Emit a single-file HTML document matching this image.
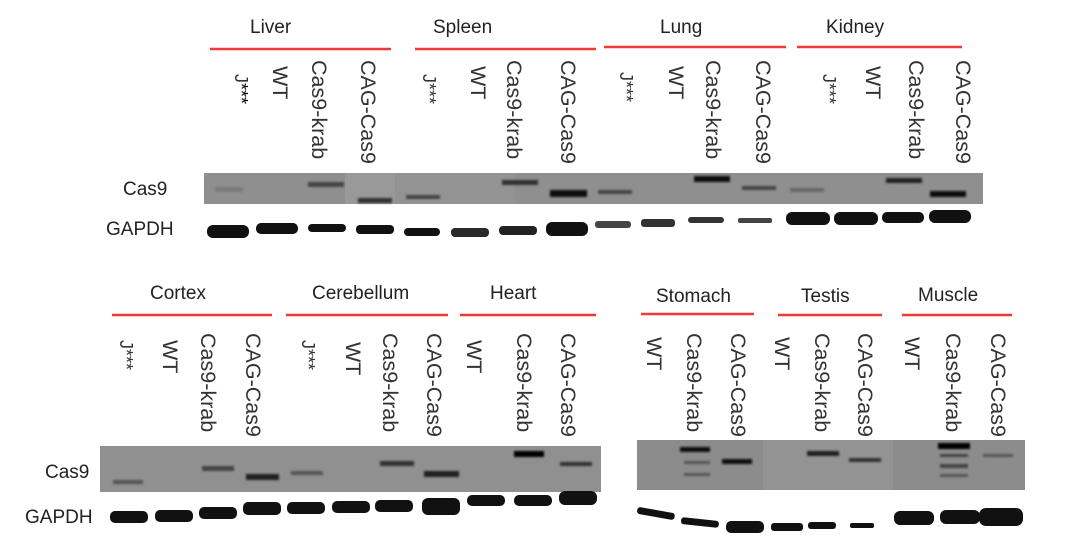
<!DOCTYPE html>
<html><head><meta charset="utf-8"><style>
html,body{margin:0;padding:0;background:#fff;}
svg{display:block;font-family:"Liberation Sans",sans-serif;}
.h{font-size:19px;fill:#222;}
.l{font-size:21.5px;fill:#333;}
.r{stroke:#f03a3a;stroke-width:2.5;}
.g rect{fill:#111;}
</style></head><body>
<svg width="1078" height="553" viewBox="0 0 1078 553" xmlns="http://www.w3.org/2000/svg">
<defs>
<filter id="b" x="-20%" y="-200%" width="140%" height="500%"><feGaussianBlur stdDeviation="1"/></filter>
</defs>
<text class="h" x="250" y="33">Liver</text>
<text class="h" x="433" y="33">Spleen</text>
<text class="h" x="660" y="33">Lung</text>
<text class="h" x="826" y="33">Kidney</text>
<line class="r" x1="210" y1="49" x2="391" y2="49"/>
<line class="r" x1="415" y1="49" x2="596" y2="49"/>
<line class="r" x1="604" y1="47" x2="786" y2="47"/>
<line class="r" x1="797" y1="47" x2="962" y2="47"/>

<g class="l">
<text transform="translate(235,74) rotate(90)" font-size="18">J<tspan font-size="18" fill="#000">***</tspan></text>
<text transform="translate(273,66) rotate(90)">WT</text>
<text transform="translate(312,60) rotate(90)">Cas9-krab</text>
<text transform="translate(361,60) rotate(90)">CAG-Cas9</text>
<text transform="translate(423,74) rotate(90)" font-size="18">J***</text>
<text transform="translate(471,66) rotate(90)">WT</text>
<text transform="translate(507,60) rotate(90)">Cas9-krab</text>
<text transform="translate(561,60) rotate(90)">CAG-Cas9</text>
<text transform="translate(620,72) rotate(90)" font-size="18">J***</text>
<text transform="translate(669,66) rotate(90)">WT</text>
<text transform="translate(706,60) rotate(90)">Cas9-krab</text>
<text transform="translate(756,60) rotate(90)">CAG-Cas9</text>
<text transform="translate(823,74) rotate(90)" font-size="18">J***</text>
<text transform="translate(866,66) rotate(90)">WT</text>
<text transform="translate(909,60) rotate(90)">Cas9-krab</text>
<text transform="translate(956,60) rotate(90)">CAG-Cas9</text>
</g>

<text class="h" x="123" y="195" font-size="20">Cas9</text>
<text class="h" x="106" y="235" font-size="20">GAPDH</text>

<rect x="204" y="173" width="779" height="31" fill="#8f8f8f"/>
<rect x="345" y="173" width="50" height="31" fill="#999"/>
<rect x="395" y="173" width="120" height="31" fill="#939393"/>
<g filter="url(#b)">
<rect x="215" y="187" width="28" height="5" fill="#7a7a7a"/>
<rect x="308" y="182" width="36" height="5" fill="#444"/>
<rect x="358" y="198" width="34" height="5" fill="#333"/>
<rect x="406" y="195" width="34" height="4" fill="#444"/>
<rect x="502" y="180" width="36" height="5" fill="#333"/>
<rect x="550" y="190" width="37" height="7" fill="#111"/>
<rect x="598" y="190" width="34" height="4" fill="#444"/>
<rect x="694" y="176" width="36" height="6" fill="#111"/>
<rect x="742" y="186" width="34" height="4" fill="#444"/>
<rect x="790" y="188" width="34" height="4" fill="#666"/>
<rect x="886" y="178" width="36" height="5" fill="#222"/>
<rect x="930" y="191" width="36" height="6" fill="#111"/>
</g>
<g class="g">
<rect x="207" y="225" width="42" height="13" rx="6"/>
<rect x="256" y="223" width="42" height="11" rx="5"/>
<rect x="308" y="224" width="38" height="8" rx="4"/>
<rect x="356" y="225" width="38" height="9" rx="4"/>
<rect x="404" y="228" width="36" height="8" rx="4"/>
<rect x="451" y="228" width="38" height="9" rx="4" style="fill:#2a2a2a"/>
<rect x="499" y="226" width="38" height="9" rx="4" style="fill:#222"/>
<rect x="546" y="222" width="42" height="14" rx="6"/>
<rect x="595" y="221" width="36" height="7" rx="3" style="fill:#444"/>
<rect x="641" y="219" width="34" height="8" rx="3" style="fill:#333"/>
<rect x="688" y="217" width="36" height="6" rx="3" style="fill:#333"/>
<rect x="738" y="218" width="34" height="5" rx="2" style="fill:#444"/>
<rect x="786" y="212" width="44" height="13" rx="6"/>
<rect x="834" y="212" width="44" height="13" rx="6"/>
<rect x="882" y="212" width="42" height="11" rx="5"/>
<rect x="929" y="210" width="42" height="13" rx="6"/>
</g>

<text class="h" x="150" y="299">Cortex</text>
<text class="h" x="312" y="299">Cerebellum</text>
<text class="h" x="490" y="299">Heart</text>
<line class="r" x1="112" y1="315" x2="272" y2="315"/>
<line class="r" x1="286" y1="315" x2="448" y2="315"/>
<line class="r" x1="460" y1="315" x2="596" y2="315"/>
<g class="l">
<text transform="translate(120,340) rotate(90)" font-size="18">J***</text>
<text transform="translate(163,340) rotate(90)">WT</text>
<text transform="translate(201,333) rotate(90)">Cas9-krab</text>
<text transform="translate(246,333) rotate(90)">CAG-Cas9</text>
<text transform="translate(302,340) rotate(90)" font-size="18">J***</text>
<text transform="translate(346,342) rotate(90)">WT</text>
<text transform="translate(383,333) rotate(90)">Cas9-krab</text>
<text transform="translate(427,333) rotate(90)">CAG-Cas9</text>
<text transform="translate(467,340) rotate(90)">WT</text>
<text transform="translate(517,333) rotate(90)">Cas9-krab</text>
<text transform="translate(561,333) rotate(90)">CAG-Cas9</text>
</g>
<text class="h" x="45" y="478" font-size="20">Cas9</text>
<text class="h" x="25" y="523" font-size="20">GAPDH</text>
<rect x="100" y="446" width="501" height="46" fill="#909090"/>
<g filter="url(#b)">
<rect x="113" y="480" width="30" height="4" fill="#555"/>
<rect x="202" y="466" width="32" height="5" fill="#444"/>
<rect x="246" y="474" width="33" height="6" fill="#222"/>
<rect x="291" y="471" width="32" height="4" fill="#555"/>
<rect x="380" y="461" width="34" height="5" fill="#333"/>
<rect x="424" y="471" width="35" height="6" fill="#222"/>
<rect x="514" y="451" width="30" height="6" fill="#000"/>
<rect x="560" y="462" width="32" height="4" fill="#333"/>
</g>
<g class="g">
<rect x="110" y="511" width="38" height="12" rx="5"/>
<rect x="155" y="510" width="38" height="12" rx="5"/>
<rect x="199" y="507" width="38" height="12" rx="5"/>
<rect x="243" y="502" width="38" height="13" rx="5"/>
<rect x="287" y="502" width="38" height="12" rx="5"/>
<rect x="332" y="501" width="38" height="12" rx="5"/>
<rect x="375" y="500" width="38" height="12" rx="5"/>
<rect x="422" y="498" width="38" height="17" rx="6"/>
<rect x="467" y="495" width="38" height="11" rx="5"/>
<rect x="514" y="495" width="38" height="11" rx="5"/>
<rect x="559" y="491" width="38" height="14" rx="6"/>
</g>

<text class="h" x="656" y="302">Stomach</text>
<text class="h" x="801" y="302">Testis</text>
<text class="h" x="918" y="301">Muscle</text>
<line class="r" x1="641" y1="314" x2="754" y2="314"/>
<line class="r" x1="778" y1="315" x2="882" y2="315"/>
<line class="r" x1="902" y1="315" x2="1012" y2="315"/>
<g class="l">
<text transform="translate(647,337) rotate(90)">WT</text>
<text transform="translate(687,333) rotate(90)">Cas9-krab</text>
<text transform="translate(731,333) rotate(90)">CAG-Cas9</text>
<text transform="translate(775,337) rotate(90)">WT</text>
<text transform="translate(815,333) rotate(90)">Cas9-krab</text>
<text transform="translate(858,333) rotate(90)">CAG-Cas9</text>
<text transform="translate(905,337) rotate(90)">WT</text>
<text transform="translate(946,333) rotate(90)">Cas9-krab</text>
<text transform="translate(991,333) rotate(90)">CAG-Cas9</text>
</g>
<rect x="637" y="440" width="388" height="50" fill="#8c8c8c"/>
<rect x="763" y="440" width="130" height="50" fill="#939393"/>
<g filter="url(#b)">
<rect x="680" y="447" width="30" height="5" fill="#111"/>
<rect x="684" y="461" width="26" height="3" fill="#555"/>
<rect x="684" y="473" width="26" height="3" fill="#555"/>
<rect x="722" y="459" width="30" height="5" fill="#111"/>
<rect x="807" y="451" width="32" height="5" fill="#222"/>
<rect x="849" y="458" width="32" height="4" fill="#333"/>
<rect x="938" y="443" width="32" height="6" fill="#000"/>
<rect x="940" y="454" width="28" height="3" fill="#444"/>
<rect x="940" y="464" width="28" height="4" fill="#444"/>
<rect x="940" y="474" width="28" height="3" fill="#555"/>
<rect x="983" y="454" width="30" height="3" fill="#555"/>
</g>
<g class="g">
<rect x="637" y="510" width="38" height="7" rx="3" transform="rotate(10 656 513)"/>
<rect x="681" y="519" width="38" height="7" rx="3" transform="rotate(6 700 522)"/>
<rect x="726" y="521" width="38" height="12" rx="5"/>
<rect x="771" y="523" width="32" height="8" rx="3"/>
<rect x="808" y="522" width="28" height="7" rx="3"/>
<rect x="850" y="523" width="24" height="5" rx="2"/>
<rect x="894" y="511" width="40" height="14" rx="6"/>
<rect x="940" y="510" width="40" height="14" rx="6"/>
<rect x="979" y="508" width="44" height="18" rx="7"/>
</g>
</svg>
</body></html>
